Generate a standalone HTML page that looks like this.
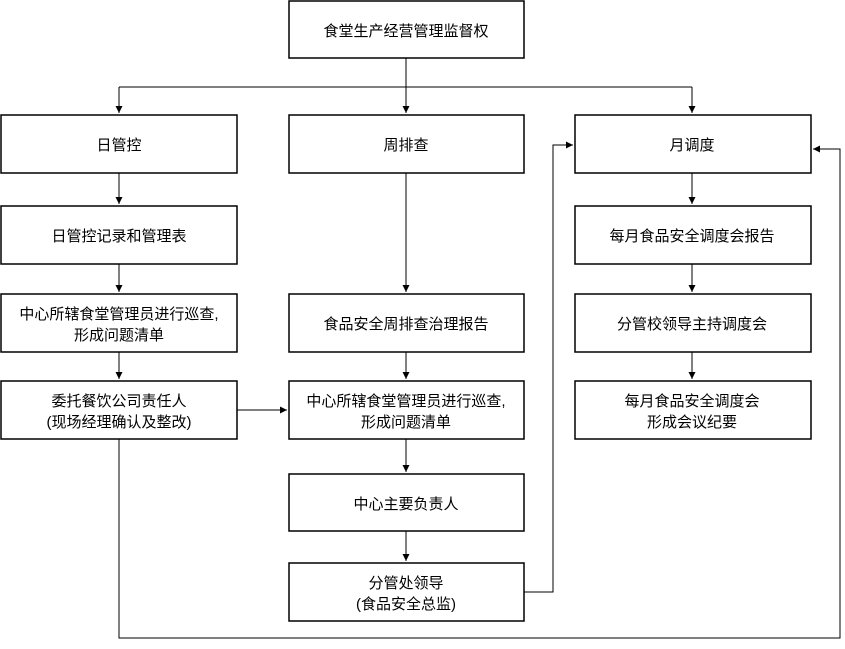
<!DOCTYPE html>
<html><head><meta charset="utf-8"><style>
html,body{margin:0;padding:0;background:#fff;}
svg text{font-family:"Liberation Sans","Noto Sans CJK SC",sans-serif;font-size:15px;fill:#000;}
</style></head><body>
<svg width="845" height="644" viewBox="0 0 845 644" xmlns="http://www.w3.org/2000/svg">
<defs><marker id="a" markerWidth="8" markerHeight="8" refX="7" refY="4" orient="auto" markerUnits="userSpaceOnUse"><path d="M0,0.5 L7,4 L0,7.5 Z" fill="#000"/></marker></defs>
<g fill="#fff" stroke="#000" stroke-width="1.5">
<rect x="289" y="1" width="235" height="57"/>
<rect x="1" y="115" width="236" height="58"/>
<rect x="289" y="115" width="235" height="58"/>
<rect x="575" y="115" width="236" height="58"/>
<rect x="1" y="206" width="236" height="58"/>
<rect x="1" y="294" width="236" height="58"/>
<rect x="1" y="381" width="236" height="58"/>
<rect x="289" y="294" width="235" height="58"/>
<rect x="289" y="381" width="235" height="58"/>
<rect x="289" y="474" width="235" height="57"/>
<rect x="289" y="563" width="235" height="58"/>
<rect x="575" y="206" width="236" height="58"/>
<rect x="575" y="294" width="236" height="58"/>
<rect x="575" y="381" width="236" height="58"/>
</g>
<g fill="none" stroke="#000" stroke-width="1">
<path d="M406,58 V87 M119,87 H692"/>
<path d="M119,87 V113" marker-end="url(#a)"/>
<path d="M406,87 V113" marker-end="url(#a)"/>
<path d="M692,87 V113" marker-end="url(#a)"/>
<path d="M119,173 V204" marker-end="url(#a)"/>
<path d="M119,264 V292" marker-end="url(#a)"/>
<path d="M119,352 V379" marker-end="url(#a)"/>
<path d="M406,173 V292" marker-end="url(#a)"/>
<path d="M406,352 V379" marker-end="url(#a)"/>
<path d="M406,439 V472" marker-end="url(#a)"/>
<path d="M406,531 V561" marker-end="url(#a)"/>
<path d="M692,173 V204" marker-end="url(#a)"/>
<path d="M692,264 V292" marker-end="url(#a)"/>
<path d="M692,352 V379" marker-end="url(#a)"/>
<path d="M237,410 H287" marker-end="url(#a)"/>
<path d="M524,592 H553 V145 H573" marker-end="url(#a)"/>
<path d="M119,439 V638 H840 V149 H813" marker-end="url(#a)"/>
</g>
<g text-anchor="middle">
<text x="406" y="36">食堂生产经营管理监督权</text>
<text x="119" y="150">日管控</text>
<text x="406" y="150">周排查</text>
<text x="692" y="150">月调度</text>
<text x="119" y="241">日管控记录和管理表</text>
<text x="119" y="319">中心所辖食堂管理员进行巡查,</text>
<text x="119" y="340">形成问题清单</text>
<text x="119" y="406">委托餐饮公司责任人</text>
<text x="119" y="427">(现场经理确认及整改)</text>
<text x="406" y="329">食品安全周排查治理报告</text>
<text x="406" y="406">中心所辖食堂管理员进行巡查,</text>
<text x="406" y="427">形成问题清单</text>
<text x="406" y="509">中心主要负责人</text>
<text x="406" y="588">分管处领导</text>
<text x="406" y="609">(食品安全总监)</text>
<text x="692" y="241">每月食品安全调度会报告</text>
<text x="692" y="329">分管校领导主持调度会</text>
<text x="692" y="406">每月食品安全调度会</text>
<text x="692" y="427">形成会议纪要</text>
</g>
</svg>
</body></html>
